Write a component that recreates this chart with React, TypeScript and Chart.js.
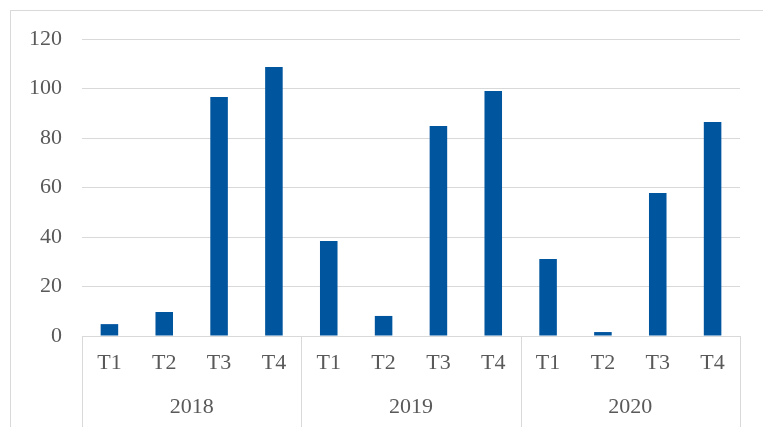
import React, { useEffect, useRef } from "react";
import { Chart, registerables } from "chart.js";

Chart.register(...registerables);

const quarters = ["T1", "T2", "T3", "T4", "T1", "T2", "T3", "T4", "T1", "T2", "T3", "T4"];
const years = ["2018", "2019", "2020"];
const values = [4.8, 9.7, 96.6, 108.7, 38.4, 8.1, 84.8, 99, 31.1, 1.6, 57.8, 86.5];
const yTicks = { min: 0, max: 120, step: 20 };

const GRID = "#d9d9d9";
const TEXT = "#595959";
const FONT = "'Liberation Serif', 'Times New Roman', serif";

const framePlugin = {
  id: "frame",
  beforeDraw(chart: any) {
    const ctx = chart.ctx;
    ctx.save();
    ctx.strokeStyle = GRID;
    ctx.lineWidth = 1;
    ctx.strokeRect(10.5, 10.5, chart.width + 20, chart.height + 20);
    ctx.restore();
  },
  afterDraw(chart: any) {
    const x = chart.scales.x;
    const ctx = chart.ctx;
    const per = (x.right - x.left) / quarters.length;
    const groupSize = quarters.length / years.length;
    ctx.save();
    ctx.strokeStyle = GRID;
    ctx.lineWidth = 1;
    for (let g = 0; g <= years.length; g++) {
      const px = Math.round(x.left + g * groupSize * per) + 0.5;
      ctx.beginPath();
      ctx.moveTo(px, x.top);
      ctx.lineTo(px, chart.height);
      ctx.stroke();
    }
    ctx.restore();
  },
};

export default function App() {
  const ref = useRef<HTMLCanvasElement | null>(null);
  useEffect(() => {
    if (!ref.current) return;
    const chart = new Chart(ref.current, {
      type: "bar",
      data: {
        labels: quarters,
        datasets: [
          {
            data: values,
            backgroundColor: "#00559F",
            borderWidth: 0,
            barPercentage: 0.32,
            categoryPercentage: 1,
            xAxisID: "x",
          },
        ],
      },
      options: {
        animation: false,
        responsive: true,
        maintainAspectRatio: false,
        layout: { padding: { left: 0, top: 39, right: 23, bottom: 0 } },
        plugins: { legend: { display: false }, tooltip: { enabled: false } },
        scales: {
          y: {
            min: yTicks.min,
            max: yTicks.max,
            ticks: { stepSize: yTicks.step, color: TEXT, font: { family: FONT, size: 22 }, padding: 20 },
            grid: { color: GRID, drawTicks: false, lineWidth: 1 },
            border: { display: false },
            afterFit(scale: any) {
              scale.width = 82;
            },
          },
          x: {
            position: "bottom",
            ticks: { color: TEXT, font: { family: FONT, size: 22 }, padding: 14, maxRotation: 0, autoSkip: false },
            grid: { display: false, drawTicks: false },
            border: { display: true, color: GRID },
            afterFit(scale: any) {
              scale.height = 48;
            },
          },
          x2: {
            type: "category",
            position: "bottom",
            labels: years,
            offset: true,
            ticks: { color: TEXT, font: { family: FONT, size: 22 }, padding: 10, maxRotation: 0 },
            grid: { display: false, drawTicks: false },
            border: { display: false },
            afterFit(scale: any) {
              scale.height = 43;
            },
          },
        },
      },
      plugins: [framePlugin],
    });
    return () => chart.destroy();
  }, []);
  return (
    <div style={{ position: "fixed", left: 0, top: 0, width: 763, height: 427, background: "#fff" }}>
      <canvas ref={ref} />
    </div>
  );
}
